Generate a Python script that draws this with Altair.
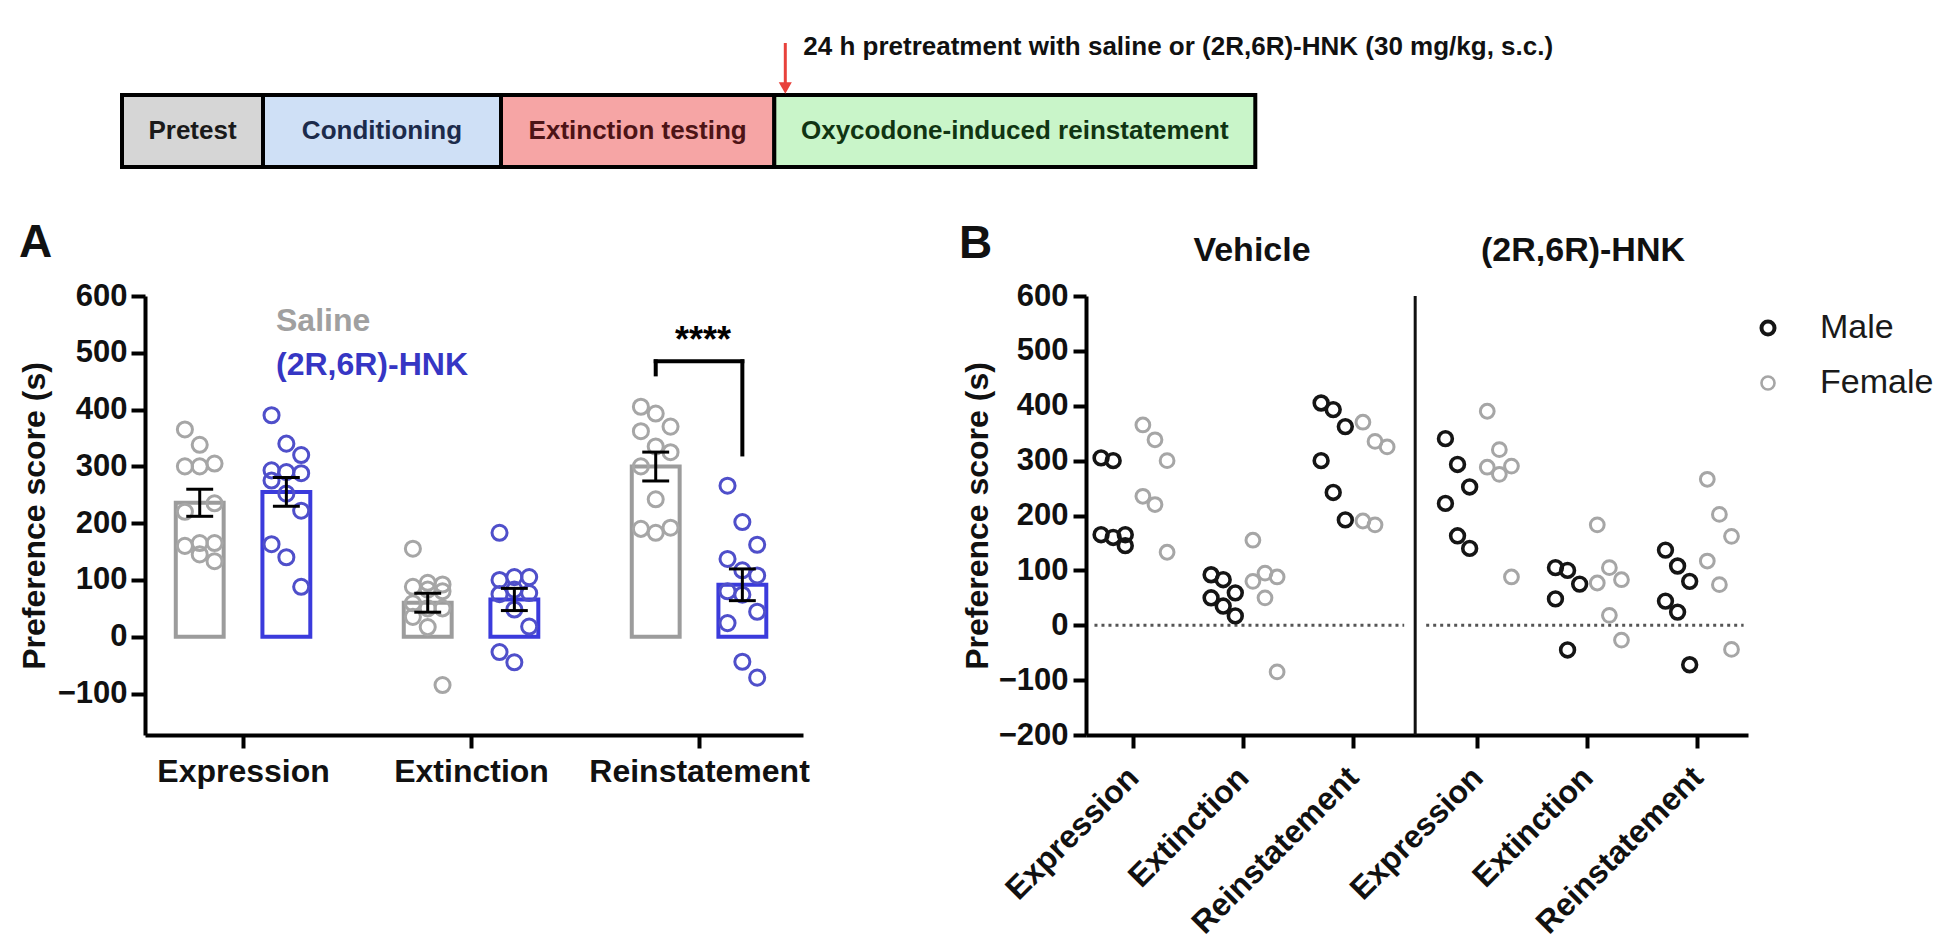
import json
import altair as alt
import pandas as pd

# ---------------- data: preference scores (s) ----------------
stages = ["Expression", "Extinction", "Reinstatement"]
treatments = ["Saline", "(2R,6R)-HNK"]      # panel B: Vehicle / (2R,6R)-HNK
sexes = ["Male", "Female"]

veh_expression_male = [305, 300, 165, 165, 160, 145]
veh_expression_female = [365, 338, 300, 235, 220, 133]
veh_extinction_male = [92, 83, 59, 50, 35, 17]
veh_extinction_female = [155, 95, 88, 80, 50, -85]
veh_reinstatement_male = [405, 393, 362, 300, 242, 192]
veh_reinstatement_female = [370, 335, 325, 190, 183]
hnk_expression_male = [340, 293, 252, 222, 163, 140]
hnk_expression_female = [390, 320, 290, 288, 275, 88]
hnk_extinction_male = [105, 100, 75, 48, -45]
hnk_extinction_female = [183, 105, 83, 77, 18, -27]
hnk_reinstatement_male = [137, 108, 80, 44, 24, -72]
hnk_reinstatement_female = [266, 202, 162, 117, 74, -44]

timeline_stages = ["Pretest", "Conditioning", "Extinction testing",
                   "Oxycodone-induced reinstatement"]
timeline_lengths = [1.41, 2.38, 2.733, 4.81]
pretreatment_note = "24 h pretreatment with saline or (2R,6R)-HNK (30 mg/kg, s.c.)"
significance = "****"

# ---------------- tables ----------------
groups = [
    (0, 0, "Male", veh_expression_male), (0, 0, "Female", veh_expression_female),
    (1, 0, "Male", veh_extinction_male), (1, 0, "Female", veh_extinction_female),
    (2, 0, "Male", veh_reinstatement_male), (2, 0, "Female", veh_reinstatement_female),
    (0, 1, "Male", hnk_expression_male), (0, 1, "Female", hnk_expression_female),
    (1, 1, "Male", hnk_extinction_male), (1, 1, "Female", hnk_extinction_female),
    (2, 1, "Male", hnk_reinstatement_male), (2, 1, "Female", hnk_reinstatement_female),
]
rows = []
for si, ti, sex, vals in groups:
    for v in vals:
        rows.append({"stage_idx": si, "stage": stages[si], "treat_idx": ti,
                     "treat": treatments[ti], "sex": sex, "score": v})
df = pd.DataFrame(rows)

FONT = "Liberation Sans"
BLACK = "#111111"
SAL_BAR, HNK_BAR = "#9c9c9c", "#3b3bdc"
SAL_PT, HNK_PT = "#a6a6a6", "#4f4fca"
MALE_C, FEMALE_C = "#151515", "#a6a6a6"

# ---------------- timeline ----------------
tl = pd.DataFrame({"stage": timeline_stages, "length": timeline_lengths,
                   "fillc": ["#d6d6d6", "#cfe0f6", "#f6a5a5", "#c9f5c9"],
                   "textc": ["#1a1a1a", "#1c2b4b", "#4d1416", "#103412"]})
tl["end"] = tl["length"].cumsum()
tl["start"] = tl["end"] - tl["length"]
tl["mid"] = (tl["start"] + tl["end"]) / 2
arrow_df = tl.iloc[[3]].assign(note=pretreatment_note)

xT_scale = alt.Scale(domain=[0.23, 15.23], nice=False, zero=False)
tl_boxes = alt.Chart(tl).mark_rect(stroke="black", strokeWidth=4).encode(
    x=alt.X("start:Q", scale=xT_scale, axis=None),
    x2="end:Q",
    y=alt.value(87), y2=alt.value(159),
    fill=alt.Fill("fillc:N", scale=None),
)
tl_text = alt.Chart(tl).mark_text(font=FONT, fontSize=26, fontWeight="bold",
                                  baseline="middle").encode(
    x=alt.X("mid:Q", scale=xT_scale, axis=None),
    y=alt.value(123),
    text="stage:N",
    color=alt.Color("textc:N", scale=None),
)
tl_shaft = alt.Chart(arrow_df).mark_rule(color="#e8413b", strokeWidth=3, xOffset=11).encode(
    x=alt.X("start:Q", scale=xT_scale, axis=None), y=alt.value(35), y2=alt.value(78))
tl_head = alt.Chart(arrow_df).mark_point(shape="triangle-down", filled=True, size=170,
                                         color="#e8413b", opacity=1, xOffset=11).encode(
    x=alt.X("start:Q", scale=xT_scale, axis=None), y=alt.value(80))
tl_note = alt.Chart(arrow_df).mark_text(font=FONT, fontSize=26, fontWeight="bold",
                                        align="left", baseline="middle", dx=29,
                                        color=BLACK).encode(
    x=alt.X("start:Q", scale=xT_scale, axis=None), y=alt.value(39), text="note:N")
timeline = alt.layer(tl_boxes, tl_text, tl_shaft, tl_head, tl_note).properties(
    width=1500, height=170)

# ---------------- panel A ----------------
WA, HA = 658, 439
xA_scale = alt.Scale(domain=[-0.43, 2.456], nice=False, zero=False)
xA_axis = alt.Axis(values=[0, 1, 2], labelExpr=f"{json.dumps(stages)}[round(datum.value)]",
                   title=None, labelFontSize=32, labelPadding=8, labelFlush=False,
                   labelOverlap=False, labelAngle=0, labelLimit=0)
yA_scale = alt.Scale(domain=[-173, 600], nice=False, zero=False)
yA_axis = alt.Axis(values=list(range(-100, 601, 100)), title="Preference score (s)",
                   titleX=-111, titleY=HA / 2, titleAlign="center", titleBaseline="middle",
                   titleAngle=270, labelPadding=4, tickSize=14, labelFlush=False)


def xa(f):
    return alt.X(f, type="quantitative", scale=xA_scale, axis=xA_axis)


def ya(f):
    return alt.Y(f, type="quantitative", scale=yA_scale, axis=yA_axis)


baseA = alt.Chart(df)
agg = baseA.transform_aggregate(
    mean="mean(score)", sd="stdev(score)", n="count()",
    groupby=["stage_idx", "treat_idx", "treat"],
).transform_calculate(
    xc="datum.stage_idx + (datum.treat_idx == 0 ? -0.19 : 0.19)",
    xl="datum.xc - 0.105", xr="datum.xc + 0.105",
    sem="datum.sd / sqrt(datum.n)",
    lo="datum.mean - datum.sem", hi="datum.mean + datum.sem",
    cl="datum.xc - 0.059", cr="datum.xc + 0.059", zero="0",
    bcol=f"datum.treat_idx == 0 ? '{SAL_BAR}' : '{HNK_BAR}'",
)
barsA = agg.mark_bar(fill="white", strokeWidth=4, strokeJoin="miter").encode(
    x=xa("xl"), x2="xr:Q", y=ya("mean"), y2="zero:Q",
    stroke=alt.Stroke("bcol:N", scale=None),
)
ptsA = baseA.transform_window(
    rk="row_number()", groupby=["stage_idx", "treat_idx"],
    sort=[alt.SortField("score", order="descending")],
).transform_calculate(
    xp="datum.stage_idx + (datum.treat_idx == 0 ? -0.19 : 0.19) + (((datum.rk - 1) % 3) - 1) * 0.065",
    pcol=f"datum.treat_idx == 0 ? '{SAL_PT}' : '{HNK_PT}'",
).mark_point(shape="circle", size=227, strokeWidth=3, filled=False, opacity=1).encode(
    x=xa("xp"), y=ya("score"),
    stroke=alt.Stroke("pcol:N", scale=None),
)
errA = agg.mark_rule(color="black", strokeWidth=3).encode(x=xa("xc"), y=ya("lo"), y2="hi:Q")
capHi = agg.mark_rule(color="black", strokeWidth=3).encode(x=xa("cl"), x2="cr:Q", y=ya("hi"))
capLo = agg.mark_rule(color="black", strokeWidth=3).encode(x=xa("cl"), x2="cr:Q", y=ya("lo"))

sal_rein = veh_reinstatement_male + veh_reinstatement_female
hnk_rein = hnk_reinstatement_male + hnk_reinstatement_female
br_top = max(sal_rein) + 80
br = pd.DataFrame({
    "x": [2 - 0.19, 2 - 0.19, 2 + 0.19],
    "x2": [2 + 0.19, 2 - 0.19, 2 + 0.19],
    "y": [br_top, br_top, br_top],
    "y2": [br_top, br_top - 23, max(hnk_rein) + 55],
})
bracket = alt.Chart(br).mark_rule(color="black", strokeWidth=4, strokeCap="square").encode(
    x=xa("x"), x2="x2:Q", y=ya("y"), y2="y2:Q")
stars = alt.Chart(pd.DataFrame({"t": [significance]})).mark_text(
    font=FONT, fontSize=36, fontWeight="bold", color="black", baseline="alphabetic"
).encode(x=alt.value(558), y=alt.value(56), text="t:N")
legA1 = alt.Chart(pd.DataFrame({"t": [treatments[0]]})).mark_text(
    font=FONT, fontSize=32, fontWeight="bold", color="#a0a0a0", align="left", baseline="middle"
).encode(x=alt.value(131), y=alt.value(25), text="t:N")
legA2 = alt.Chart(pd.DataFrame({"t": [treatments[1]]})).mark_text(
    font=FONT, fontSize=32, fontWeight="bold", color="#3636c4", align="left", baseline="middle"
).encode(x=alt.value(131), y=alt.value(69), text="t:N")
letterA = alt.Chart(pd.DataFrame({"t": ["A"]})).mark_text(
    font=FONT, fontSize=46, fontWeight="bold", color=BLACK, align="left", baseline="middle"
).encode(x=alt.value(-126), y=alt.value(-53), text="t:N")

panelA = alt.layer(barsA, ptsA, errA, capHi, capLo, bracket, stars, legA1, legA2,
                   letterA).properties(width=WA, height=HA)

# ---------------- panel B ----------------
WB, HB = 662, 439
GAP = 3.13
xB_scale = alt.Scale(domain=[-0.427, 5.59], nice=False, zero=False)
xB_axis = alt.Axis(values=[0, 1, 2, GAP, 1 + GAP, 2 + GAP],
                   labelExpr=f"{json.dumps(stages)}[round(datum.value) % 3]",
                   title=None, labelFontSize=32, labelAngle=-45, labelAlign="right",
                   labelBaseline="middle", labelPadding=24, labelFlush=False,
                   labelOverlap=False, labelLimit=0)
yB_scale = alt.Scale(domain=[-200, 600], nice=False, zero=False)
yB_axis = alt.Axis(values=list(range(-200, 601, 100)), title="Preference score (s)",
                   titleX=-109, titleY=HB / 2, titleAlign="center", titleBaseline="middle",
                   titleAngle=270, labelPadding=5, tickSize=13, labelFlush=False)


def xb(f):
    return alt.X(f, type="quantitative", scale=xB_scale, axis=xB_axis)


def yb(f):
    return alt.Y(f, type="quantitative", scale=yB_scale, axis=yB_axis)


divider_x = 2 + (GAP - 2) / 2
zero_df = pd.DataFrame({"x": [-0.35, divider_x + 0.1], "x2": [divider_x - 0.1, 5.55],
                        "y": [0, 0]})
zeroB = alt.Chart(zero_df).mark_rule(color="#555555", strokeWidth=3, strokeDash=[3, 4]).encode(
    x=xb("x"), x2="x2:Q", y=yb("y"))
div_df = pd.DataFrame({"x": [divider_x], "y": [600], "y2": [-200]})
divB = alt.Chart(div_df).mark_rule(color=BLACK, strokeWidth=3).encode(
    x=xb("x"), y=yb("y"), y2="y2:Q")
ptsB = alt.Chart(df).transform_window(
    rk="row_number()", groupby=["stage_idx", "treat_idx", "sex"],
    sort=[alt.SortField("score", order="descending")],
).transform_calculate(
    xp=f"datum.stage_idx + {GAP} * datum.treat_idx + (datum.sex == 'Male' ? -0.18 : 0.2)"
       " + (((datum.rk - 1) % 3) - 1) * 0.11",
    scol=f"datum.sex == 'Male' ? '{MALE_C}' : '{FEMALE_C}'",
    sw="datum.sex == 'Male' ? 3.6 : 3.0",
).mark_point(shape="circle", size=190, filled=False, opacity=1).encode(
    x=xb("xp"), y=yb("score"),
    stroke=alt.Stroke("scol:N", scale=None),
    strokeWidth=alt.StrokeWidth("sw:Q", scale=None),
)
legB = []
for i, (sex, col, sw) in enumerate([("Male", MALE_C, 4), ("Female", FEMALE_C, 2.6)]):
    d = pd.DataFrame({"t": [sex]})
    legB.append(alt.Chart(d).mark_point(shape="circle", size=170, filled=False, opacity=1,
                                        color=col, strokeWidth=sw).encode(
        x=alt.value(682), y=alt.value(32 + 55 * i)))
    legB.append(alt.Chart(d).mark_text(font=FONT, fontSize=34, color="#1a1a1a", align="left",
                                       baseline="middle").encode(
        x=alt.value(734), y=alt.value(32 + 55 * i), text="t:N"))
titleB1 = alt.Chart(pd.DataFrame({"t": ["Vehicle"]})).mark_text(
    font=FONT, fontSize=34, fontWeight="bold", color=BLACK, baseline="middle"
).encode(x=alt.value(166), y=alt.value(-45), text="t:N")
titleB2 = alt.Chart(pd.DataFrame({"t": [treatments[1]]})).mark_text(
    font=FONT, fontSize=34, fontWeight="bold", color=BLACK, baseline="middle"
).encode(x=alt.value(497), y=alt.value(-45), text="t:N")
letterB = alt.Chart(pd.DataFrame({"t": ["B"]})).mark_text(
    font=FONT, fontSize=46, fontWeight="bold", color=BLACK, align="left", baseline="middle"
).encode(x=alt.value(-127), y=alt.value(-52), text="t:N")

panelB = alt.layer(zeroB, divB, ptsB, *legB, titleB1, titleB2, letterB).properties(
    width=WB, height=HB)

panels = alt.hconcat(panelA, panelB, spacing=283, bounds="flush")
chart = alt.vconcat(timeline, panels, spacing=118, bounds="flush").properties(
    padding={"left": 10, "top": 0, "right": 5, "bottom": 0}
).configure_view(strokeWidth=0).configure_axis(
    domainColor="black", domainWidth=4, tickColor="black", tickWidth=4, tickSize=13,
    labelFont=FONT, labelFontSize=31, labelFontWeight="bold", labelColor=BLACK,
    titleFont=FONT, titleFontSize=32, titleFontWeight="bold", titleColor=BLACK,
    grid=False,
)

chart.save("out.html", embed_options={"renderer": "svg", "actions": False})
